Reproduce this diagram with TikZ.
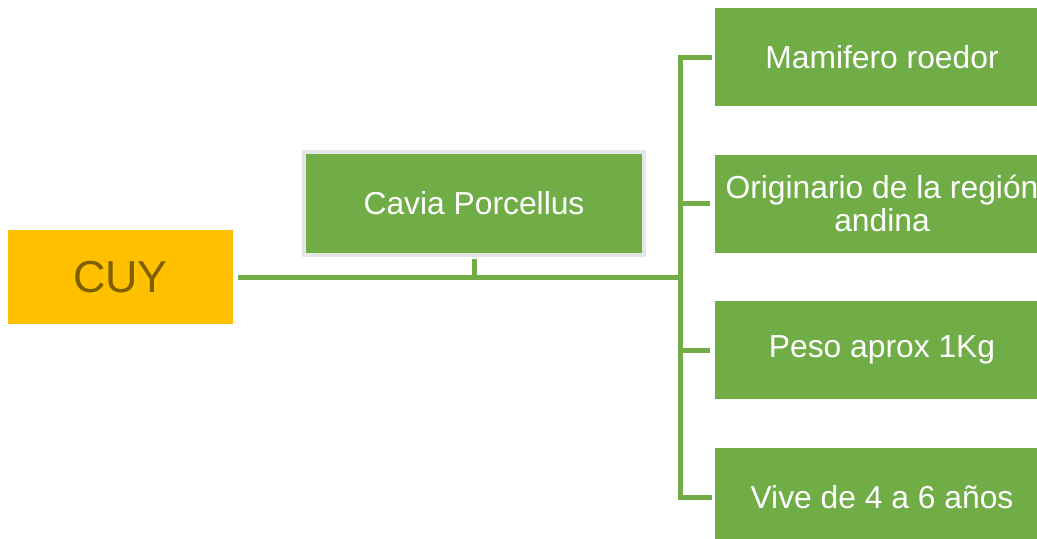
\documentclass[tikz,border=0pt]{standalone}
\usepackage{fontspec}
\setmainfont{Liberation Sans}
\definecolor{leaf}{HTML}{70AD47}
\definecolor{amber}{HTML}{FFC000}
\definecolor{olive}{HTML}{7F6000}
\definecolor{frame}{HTML}{E7E6E6}
\newdimen\pxu \pxu=0.02cm

\begin{document}
\begin{tikzpicture}[x=0.02cm, y=-0.02cm,
		leafbox/.style={rectangle, fill=leaf, text=white, inner sep=0pt, align=center,
			font=\fontsize{18.1pt}{18.7pt}\selectfont},
		item/.style={leafbox, minimum width=334\pxu, minimum height=98\pxu},
		link/.style={draw=leaf, line width=5\pxu}]
		\useasboundingbox (0,0) rectangle (1037,538);
		\clip (0,0) rectangle (1037,538);

		\node[rectangle, fill=amber, text=olive, minimum width=225\pxu, minimum height=94\pxu,
			font=\fontsize{25.5pt}{27pt}\selectfont] (cuy) at (120.5,277) {CUY};
		\node[leafbox, draw=frame, line width=4\pxu, minimum width=340\pxu, minimum height=103\pxu] (cavia) at (474,203.5) {Cavia Porcellus};

		\node[item] (mam) at (882,57) {Mamifero roedor};
		\node[item] (orig) at (882,203.5) {Originario de la región\\andina};
		\node[item] (peso) at (882,350) {Peso aprox 1Kg};
		\node[item] (vive) at (882,497) {Vive de 4 a 6 años};

		\coordinate (bus) at (680,277);

		\draw[link, shorten <=5\pxu] (cuy.east) -- (bus);
		\draw[link] ([yshift=-2\pxu]cavia.south) -- (cavia.south |- bus);
		\draw[link, line cap=rect] (bus) |- ([xshift=-5\pxu]mam.west);
		\draw[link, line cap=rect] (bus) |- ([xshift=-5\pxu]vive.west);
		\draw[link] (bus |- orig.west) -- ([xshift=-5\pxu]orig.west);
		\draw[link] (bus |- peso.west) -- ([xshift=-5\pxu]peso.west);
	\end{tikzpicture}
\end{document}
